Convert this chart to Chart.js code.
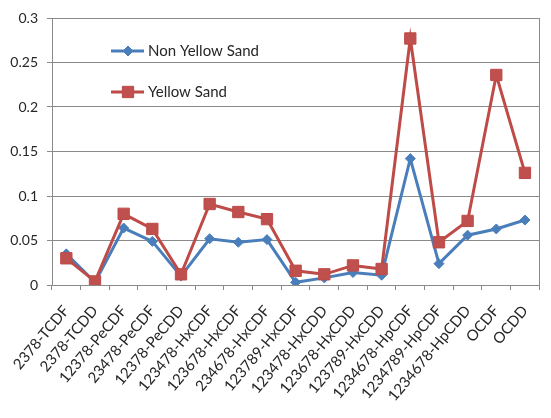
<!DOCTYPE html>
<html>
<head>
<meta charset="utf-8">
<script src="https://cdn.jsdelivr.net/npm/chart.js@4/dist/chart.umd.min.js"></script>
<style>
  html, body { margin: 0; padding: 0; background: #ffffff; }
  #wrap { width: 551px; height: 418px; }
</style>
</head>
<body>
<div id="wrap"><canvas id="c" width="551" height="418"></canvas></div>
<script>
// Congener categories along the x axis
const categories = [
  '2378-TCDF', '2378-TCDD', '12378-PeCDF', '23478-PeCDF', '12378-PeCDD',
  '123478-HxCDF', '123678-HxCDF', '234678-HxCDF', '123789-HxCDF',
  '123478-HxCDD', '123678-HxCDD', '123789-HxCDD',
  '1234678-HpCDF', '1234789-HpCDF', '1234678-HpCDD', 'OCDF', 'OCDD'
];

// Series values
const nonYellowSand = [0.035, 0.003, 0.064, 0.049, 0.010, 0.052, 0.048, 0.051, 0.003,
  0.008, 0.014, 0.011, 0.142, 0.024, 0.056, 0.063, 0.073];
const yellowSand = [0.030, 0.004, 0.080, 0.063, 0.012, 0.091, 0.082, 0.074, 0.016,
  0.012, 0.022, 0.018, 0.277, 0.048, 0.072, 0.236, 0.126];

// Y axis tick values and their labels
const yTickValues = [0, 0.05, 0.1, 0.15, 0.2, 0.25, 0.3];
const yTickLabels = ['0', '0.05', '0.1', '0.15', '0.2', '0.25', '0.3'];

const seriesNames = ['Non Yellow Sand', 'Yellow Sand'];

const FONT = 'Lato, "Open Sans", sans-serif';
const BLUE = '#4a7ebb';
const RED = '#be4b48';
const RED_FILL = '#c0504d';
const GRID = '#8a8a8a';
const TEXT = '#262626';

// In-plot legend and right-hand frame line
const framePlugin = {
  id: 'frameAndLegend',
  afterDatasetsDraw(chart) {
    const { ctx, chartArea } = chart;
    ctx.save();
    ctx.strokeStyle = GRID;
    ctx.lineWidth = 1;
    ctx.beginPath();
    ctx.moveTo(Math.round(chartArea.right) + 0.5, chartArea.top);
    ctx.lineTo(Math.round(chartArea.right) + 0.5, chartArea.bottom);
    ctx.stroke();

    const entries = [
      { ds: chart.data.datasets[0], y: 51 },
      { ds: chart.data.datasets[1], y: 92 }
    ];
    entries.forEach(e => {
      const x0 = 111, x1 = 144, xm = 128;
      ctx.strokeStyle = e.ds.borderColor;
      ctx.lineWidth = 3;
      ctx.beginPath();
      ctx.moveTo(x0, e.y);
      ctx.lineTo(x1, e.y);
      ctx.stroke();

      ctx.fillStyle = e.ds.pointBackgroundColor;
      ctx.strokeStyle = e.ds.pointBorderColor;
      ctx.lineWidth = 1;
      ctx.beginPath();
      const r = e.ds.pointRadius;
      if (e.ds.pointStyle === 'rect') {
        const s = r * Math.SQRT1_2;
        ctx.rect(xm - s, e.y - s, 2 * s, 2 * s);
      } else {
        ctx.moveTo(xm, e.y - r);
        ctx.lineTo(xm + r, e.y);
        ctx.lineTo(xm, e.y + r);
        ctx.lineTo(xm - r, e.y);
        ctx.closePath();
      }
      ctx.fill();
      ctx.stroke();

      ctx.fillStyle = TEXT;
      ctx.font = '15px ' + FONT;
      ctx.textBaseline = 'middle';
      ctx.textAlign = 'left';
      ctx.fillText(e.ds.label, 148, e.y);
    });
    ctx.restore();
  }
};

new Chart(document.getElementById('c'), {
  type: 'line',
  data: {
    labels: categories,
    datasets: [
      {
        label: seriesNames[0],
        data: nonYellowSand,
        borderColor: BLUE,
        backgroundColor: BLUE,
        pointBackgroundColor: BLUE,
        pointBorderColor: BLUE,
        pointStyle: 'rectRot',
        pointRadius: 5,
        pointBorderWidth: 1,
        borderWidth: 3,
        tension: 0,
        order: 2
      },
      {
        label: seriesNames[1],
        data: yellowSand,
        borderColor: RED,
        backgroundColor: RED_FILL,
        pointBackgroundColor: RED_FILL,
        pointBorderColor: RED,
        pointStyle: 'rect',
        pointRadius: 8,
        pointBorderWidth: 1,
        borderWidth: 3,
        tension: 0,
        order: 1
      }
    ]
  },
  options: {
    responsive: false,
    animation: false,
    devicePixelRatio: 1,
    layout: { padding: { left: 0, top: 18, right: 4, bottom: 0 } },
    plugins: {
      legend: { display: false },
      tooltip: { enabled: false }
    },
    scales: {
      x: {
        type: 'category',
        offset: true,
        grid: {
          offset: true,
          drawOnChartArea: false,
          drawTicks: true,
          tickLength: 5,
          color: GRID
        },
        border: { color: GRID, width: 1 },
        ticks: {
          autoSkip: false,
          minRotation: 50,
          maxRotation: 50,
          padding: 12,
          color: TEXT,
          font: { family: FONT, size: 15 }
        },
        afterFit(scale) { scale.height = 133; }
      },
      y: {
        min: 0,
        max: 0.3,
        afterBuildTicks(scale) {
          scale.ticks = yTickValues.map(v => ({ value: v }));
        },
        grid: {
          color: GRID,
          lineWidth: 1,
          drawTicks: true,
          tickLength: 5
        },
        border: { color: GRID, width: 1 },
        ticks: {
          padding: 9,
          color: TEXT,
          font: { family: FONT, size: 14 },
          callback(value) {
            const i = yTickValues.findIndex(v => Math.abs(v - value) < 1e-9);
            return i >= 0 ? yTickLabels[i] : '';
          }
        },
        afterFit(scale) { scale.width = 52; }
      }
    }
  },
  plugins: [framePlugin]
});
</script>
</body>
</html>
